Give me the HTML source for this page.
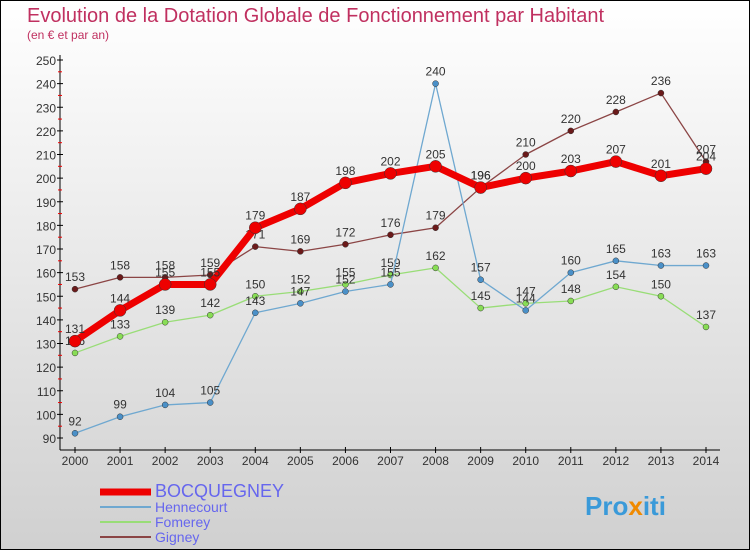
<!DOCTYPE html>
<html><head><meta charset="utf-8"><style>
body{margin:0;}
#c{width:750px;height:550px;position:relative;overflow:hidden;font-family:"Liberation Sans",sans-serif;}
</style></head><body>
<div id="c">
<svg id="s" width="750" height="550" xmlns="http://www.w3.org/2000/svg">
<defs><linearGradient id="bg" x1="0" y1="0" x2="0" y2="1"><stop offset="0" stop-color="#ffffff"/><stop offset="1" stop-color="#d0d0d0"/></linearGradient></defs>
<rect x="0.5" y="0.5" width="749" height="549" fill="url(#bg)" stroke="#000"/>
<text x="27" y="22" font-size="20" fill="#c03060">Evolution de la Dotation Globale de Fonctionnement par Habitant</text>
<text x="27" y="39" font-size="12" fill="#c03060">(en € et par an)</text>
<g id="axes"></g><g id="series"></g><g id="legend"></g>
<text x="585" y="515" font-size="26" font-weight="bold" fill="#3a9ad9">Pro<tspan fill="#f08a00">x</tspan>iti</text>
</svg></div>
<script>
const years=[2000,2001,2002,2003,2004,2005,2006,2007,2008,2009,2010,2011,2012,2013,2014];
const bocquegney=[131,144,155,155,179,187,198,202,205,196,200,203,207,201,204];
const hennecourt=[92,99,104,105,143,147,152,155,240,157,144,160,165,163,163];
const fomerey=[126,133,139,142,150,152,155,159,162,145,147,148,154,150,137];
const gigney=[153,158,158,159,171,169,172,176,179,196,210,220,228,236,207];
const yTicks=[90,100,110,120,130,140,150,160,170,180,190,200,210,220,230,240,250];
const NS="http://www.w3.org/2000/svg";
const X=i=>75+i*(706-75)/14;
const Y=v=>438-(v-90)*(438-60)/160;
function mk(t,a,p){const e=document.createElementNS(NS,t);for(const k in a)e.setAttribute(k,a[k]);p.appendChild(e);return e;}
const ax=document.getElementById('axes');
let l=mk('line',{x1:60,y1:55,x2:60,y2:450,stroke:'#000'},ax);


l=mk('line',{x1:60,y1:450,x2:720,y2:450,stroke:'#000'},ax);


yTicks.forEach((v,i)=>{
 mk('line',{x1:57,y1:Y(v),x2:63,y2:Y(v),stroke:'#000'},ax);
 if(i<yTicks.length-1)mk('line',{x1:58,y1:Y(v+5),x2:62,y2:Y(v+5),stroke:'#e00'},ax);
 const t=mk('text',{x:56,y:Y(v)+5,'font-size':12,'text-anchor':'end',fill:'#333'},ax);t.textContent=v;
 
 
});
years.forEach((y,i)=>{
 mk('line',{x1:X(i),y1:447,x2:X(i),y2:453,stroke:'#000'},ax);
 const t=mk('text',{x:X(i),y:465,'font-size':12,'text-anchor':'middle',fill:'#333'},ax);t.textContent=y;
 
 
});
const sg=document.getElementById('series');
function draw(d,col,w,r,dot,name){
 const g=mk('g',{},sg);
 
 
 const p=mk('polyline',{points:d.map((v,i)=>X(i)+','+Y(v)).join(' '),fill:'none',stroke:col,'stroke-width':w,'stroke-linejoin':'round'},g);
 
 
 d.forEach((v,i)=>{
  const c=mk('circle',{cx:X(i),cy:Y(v),r:r,fill:dot,stroke:'#333','stroke-width':0.5},g);
  
  
  const t=mk('text',{x:X(i),y:Y(v)-8,'font-size':12,'text-anchor':'middle',fill:'#333'},g);t.textContent=v;
  
  
 });
}
draw(gigney,'#8b4545',1.3,3,'#6b1a1a','gigney');
draw(fomerey,'#99dd77',1.3,3,'#88dd55','fomerey');
draw(hennecourt,'#6fa8d0',1.3,3,'#4a90c8','hennecourt');
draw(bocquegney,'#ee0000',7,6,'#ee0000','bocquegney');
const lg=document.getElementById('legend');
[['BOCQUEGNEY','#ee0000',7,16],['Hennecourt','#6fa8d0',2,12],['Fomerey','#99dd77',2,12],['Gigney','#8b4545',2,12]].forEach((e,i)=>{
 const y=492+i*15;
 const g=mk('g',{},lg);
 
 
 mk('line',{x1:100,y1:y,x2:151,y2:y,stroke:e[1],'stroke-width':e[2]},g);
 const t=mk('text',{x:155,y:y+5,'font-size':e[3]+2,fill:'#6666ee'},g);t.textContent=e[0];
});
</script>
</body></html>
